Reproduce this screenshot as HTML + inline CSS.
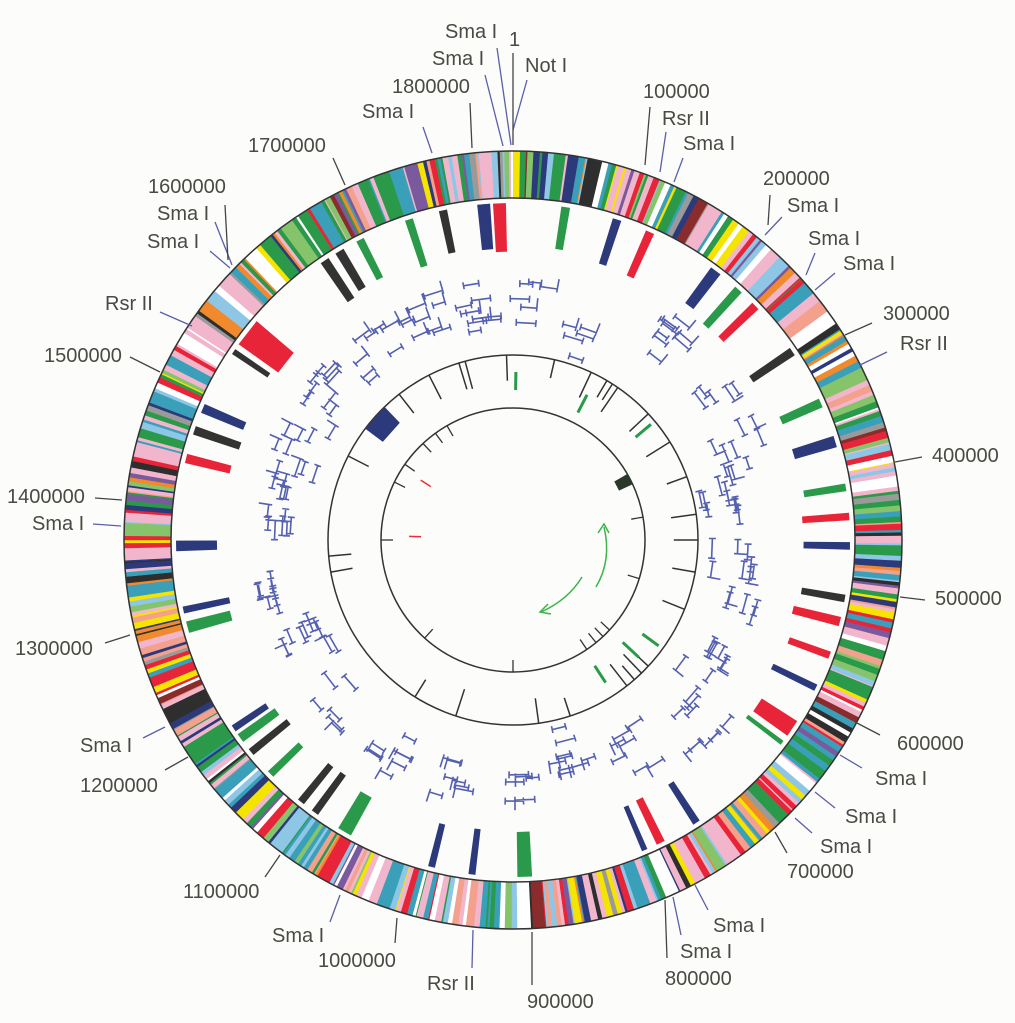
<!DOCTYPE html>
<html><head><meta charset="utf-8"><style>
html,body{margin:0;padding:0;background:#fcfcfb;}
svg{display:block}
text{font-family:"Liberation Sans",sans-serif;font-size:20px;fill:#4a4a44;}
</style></head><body>
<svg id="s" width="1015" height="1023" viewBox="0 0 1015 1023" xmlns="http://www.w3.org/2000/svg">
<g id="gen"></g>
<g stroke="#5a5fa8" stroke-width="1.3" fill="none">
<line x1="497" y1="48" x2="511" y2="145"/><line x1="485" y1="75" x2="503" y2="146"/>
<line x1="527" y1="80" x2="513" y2="130"/><line x1="423" y1="127" x2="432" y2="153"/>
<line x1="666" y1="132" x2="660" y2="172"/><line x1="683" y1="158" x2="674" y2="182"/>
<line x1="782" y1="217" x2="765" y2="235"/><line x1="815" y1="253" x2="806" y2="275"/>
<line x1="835" y1="273" x2="815" y2="290"/><line x1="887" y1="352" x2="860" y2="365"/>
<line x1="862" y1="768" x2="840" y2="755"/><line x1="835" y1="808" x2="815" y2="792"/>
<line x1="812" y1="833" x2="795" y2="818"/><line x1="708" y1="910" x2="695" y2="885"/>
<line x1="681" y1="935" x2="673" y2="897"/><line x1="472" y1="968" x2="473" y2="930"/>
<line x1="330" y1="922" x2="340" y2="895"/><line x1="143" y1="738" x2="165" y2="727"/>
<line x1="93" y1="524" x2="121" y2="526"/><line x1="215" y1="222" x2="232" y2="265"/>
<line x1="210" y1="251" x2="230" y2="268"/><line x1="160" y1="312" x2="192" y2="326"/>
</g>
<g stroke="#444" stroke-width="1.3" fill="none">
<line x1="513" y1="53" x2="513" y2="145"/><line x1="470" y1="103" x2="472" y2="148"/>
<line x1="650" y1="107" x2="645" y2="165"/><line x1="770" y1="195" x2="768" y2="225"/>
<line x1="872" y1="323" x2="845" y2="335"/><line x1="922" y1="457" x2="895" y2="462"/>
<line x1="925" y1="600" x2="900" y2="597"/><line x1="880" y1="735" x2="855" y2="722"/>
<line x1="787" y1="853" x2="775" y2="832"/><line x1="667" y1="958" x2="665" y2="900"/>
<line x1="532" y1="985" x2="532" y2="932"/><line x1="395" y1="943" x2="397" y2="918"/>
<line x1="265" y1="877" x2="280" y2="855"/><line x1="165" y1="770" x2="188" y2="757"/>
<line x1="105" y1="643" x2="130" y2="635"/><line x1="95" y1="498" x2="122" y2="500"/>
<line x1="130" y1="357" x2="160" y2="372"/><line x1="225" y1="205" x2="228" y2="260"/>
<line x1="333" y1="158" x2="345" y2="185"/>
</g>
<text x="445" y="38">Sma I</text><text x="509" y="46">1</text>
<text x="432" y="65">Sma I</text><text x="525" y="72">Not I</text>
<text x="392" y="93">1800000</text><text x="362" y="118">Sma I</text>
<text x="643" y="98">100000</text><text x="662" y="125">Rsr II</text>
<text x="683" y="150">Sma I</text><text x="248" y="152">1700000</text>
<text x="763" y="185">200000</text><text x="787" y="212">Sma I</text>
<text x="148" y="193">1600000</text><text x="808" y="245">Sma I</text>
<text x="157" y="220">Sma I</text><text x="147" y="248">Sma I</text>
<text x="843" y="270">Sma I</text><text x="883" y="320">300000</text>
<text x="105" y="310">Rsr II</text><text x="900" y="350">Rsr II</text>
<text x="44" y="362">1500000</text><text x="932" y="462">400000</text>
<text x="7" y="503">1400000</text><text x="32" y="530">Sma I</text>
<text x="935" y="605">500000</text><text x="15" y="655">1300000</text>
<text x="897" y="750">600000</text><text x="80" y="752">Sma I</text>
<text x="875" y="785">Sma I</text><text x="80" y="792">1200000</text>
<text x="845" y="823">Sma I</text><text x="820" y="853">Sma I</text>
<text x="787" y="878">700000</text><text x="183" y="898">1100000</text>
<text x="713" y="932">Sma I</text><text x="272" y="942">Sma I</text>
<text x="680" y="958">Sma I</text><text x="318" y="967">1000000</text>
<text x="665" y="985">800000</text><text x="427" y="990">Rsr II</text>
<text x="527" y="1008">900000</text>
</svg>
<script>
(function(){
var cx=513,cy=540;
var seed=12345;function R(){seed|=0;seed=seed+0x6D2B79F5|0;var t=Math.imul(seed^seed>>>15,1|seed);t=t+Math.imul(t^t>>>7,61|t)^t;return((t^t>>>14)>>>0)/4294967296;}
function P(a,r){var t=a*Math.PI/180;return[(cx+r*Math.sin(t)).toFixed(1),(cy-r*Math.cos(t)).toFixed(1)];}
function wedge(a1,a2,r1,r2,c){var p=[P(a1,r1),P(a2,r1),P(a2,r2),P(a1,r2)];return '<polygon points="'+p.map(function(q){return q.join(',')}).join(' ')+'" fill="'+c+'"/>';}
var h='';
var cols=[['#f2b6cc',16],['#3a9fb8',12],['#2a9a4a',10],['#f4e400',9],['#e82438',6],['#2e2e2e',4],['#2c3a7c',5],['#8ec6e6',6],['#f3a08c',6],['#f08a2c',4],['#ffffff',7],['#86c46c',5],['#9a9a9a',2],['#7a5a9c',2],['#8a2c2c',1]];
var tot=0;cols.forEach(function(c){tot+=c[1]});
function pick(){var x=R()*tot;for(var i=0;i<cols.length;i++){x-=cols[i][1];if(x<=0)return cols[i][0];}return cols[0][0];}
var a=0;while(a<360){var w=0.15+R()*0.9;if(R()<0.08)w+=1.2;h+=wedge(a,Math.min(360,a+w+0.05),342,389,pick());a+=w;}
h+='<circle cx="'+cx+'" cy="'+cy+'" r="389" fill="none" stroke="#333" stroke-width="1.5"/>';
h+='<circle cx="'+cx+'" cy="'+cy+'" r="342" fill="none" stroke="#333" stroke-width="1.5"/>';
var bars=[[-5,'#2c3a7c',2.2],[-2.3,'#e82438',2.2],[9,'#2a9a4a',1.5],[18,'#2c3a7c',1.5],[24,'#e82438',1.5],[37,'#2c3a7c',2],[42,'#2a9a4a',1.5],[46,'#e82438',1.5],[56,'#333',1.5],[66,'#2a9a4a',1.6],[73,'#2c3a7c',2],[81,'#2a9a4a',1.3],[86,'#e82438',1.3],[91,'#2c3a7c',1.3],[100,'#333',1.3],[104,'#e82438',1.6],[110,'#e82438',1.3],[116,'#2c3a7c',1.2],[124,'#e82438',3],[127,'#2a9a4a',0.8],[147,'#2c3a7c',1.3],[154,'#e82438',1.5],[157,'#2c3a7c',1],[178,'#2a9a4a',2.5],[187,'#2c3a7c',1.2],[194,'#2c3a7c',1.2],[210,'#2a9a4a',2.5],[216,'#333',1.3],[219,'#333',1.3],[226,'#2a9a4a',1.3],[231,'#333',1.3],[234,'#2a9a4a',1.6],[236,'#2c3a7c',1.2],[255,'#2a9a4a',2],[258,'#2c3a7c',1.2],[269,'#2c3a7c',1.8],[284,'#e82438',1.6],[289,'#333',1.5],[293,'#2c3a7c',1.6],[308,'#e82438',5],[304,'#333',1],[326,'#333',1.6],[329,'#333',1.6],[333,'#2a9a4a',1.4],[342,'#2a9a4a',1.4],[348,'#333',1.4],[355,'#2c3a7c',2]];
bars.forEach(function(b){var len=40+(R()*10);h+=wedge(b[0]-b[2]/2,b[0]+b[2]/2,337-len,337,b[1]);});
var clusters=[[300,50],[312,40],[325,40],[338,30],[352,25],[5,25],[18,20],[40,30],[55,30],[68,35],[80,30],[95,25],[108,25],[122,35],[135,30],[150,25],[165,25],[178,20],[195,25],[210,25],[228,30],[244,25],[258,25],[272,30],[285,30]];
var ib='';
clusters.forEach(function(c){var n=5+Math.floor(R()*7);var base=205+R()*60;for(var i=0;i<n;i++){var ang=c[0]+(R()-0.5)*(c[1]/3);var r=base+(R()-0.5)*50;var L=12+R()*8;var da=L/2/r*180/Math.PI;var p1=P(ang-da,r),p2=P(ang+da,r);
var s1=P(ang-da,r-3.5),s2=P(ang-da,r+3.5),s3=P(ang+da,r-3.5),s4=P(ang+da,r+3.5);
ib+='M'+p1+'L'+p2+'M'+s1+'L'+s2+'M'+s3+'L'+s4;
if(R()<0.4){var q=P(ang+da,r+10);ib+='M'+p2+'L'+q;}}});
h+='<path d="'+ib+'" stroke="#5560b0" stroke-width="1.6" fill="none"/>';
h+='<circle cx="'+cx+'" cy="'+cy+'" r="185" fill="none" stroke="#333" stroke-width="1.5"/>';
h+='<circle cx="'+cx+'" cy="'+cy+'" r="132" fill="none" stroke="#333" stroke-width="1.5"/>';
function tick(a,r1,r2,c,w){var p=P(a,r1),q=P(a,r2);return '<line x1="'+p[0]+'" y1="'+p[1]+'" x2="'+q[0]+'" y2="'+q[1]+'" stroke="'+c+'" stroke-width="'+w+'"/>';}
[345,358,13,25,30.5,32.5,34.5,47,58,70,82,90,100,112,133,136,139,142,162,172,198,212,260,265,297,322,333,343].forEach(function(a){h+=tick(a,185,185-(18+R()*12),'#333',1.5);});
[[1,150,168],[27,143,163],[50,160,180],[126,160,180],[133,150,172],[147,150,170]].forEach(function(t){h+=tick(t[0],t[1],t[2],'#2a9a4a',3);});
h+=wedge(307,316,163,185,'#2c3a7c');
[330,324,317,305,296,270,222,180,146,141,137,133,107,80].forEach(function(a){h+=tick(a,132,132-12,'#333',1.3);});
h+=wedge(60,65,117,132,'#2a3a2a');
h+=tick(-57,110,98,'#e83030',1.5);h+=tick(-88,104,92,'#e83030',1.5);
h+='<path d="M596,587 Q612,560 604,527" stroke="#3cb44a" stroke-width="1.5" fill="none"/><path d="M598,533 L604,524 L609,533" stroke="#3cb44a" stroke-width="1.5" fill="none"/>';
h+='<path d="M582,577 Q568,600 541,612" stroke="#3cb44a" stroke-width="1.5" fill="none"/><path d="M548,604 L540,612 L551,614" stroke="#3cb44a" stroke-width="1.5" fill="none"/>';
document.getElementById('gen').innerHTML=h;
})();
</script>
</body></html>
